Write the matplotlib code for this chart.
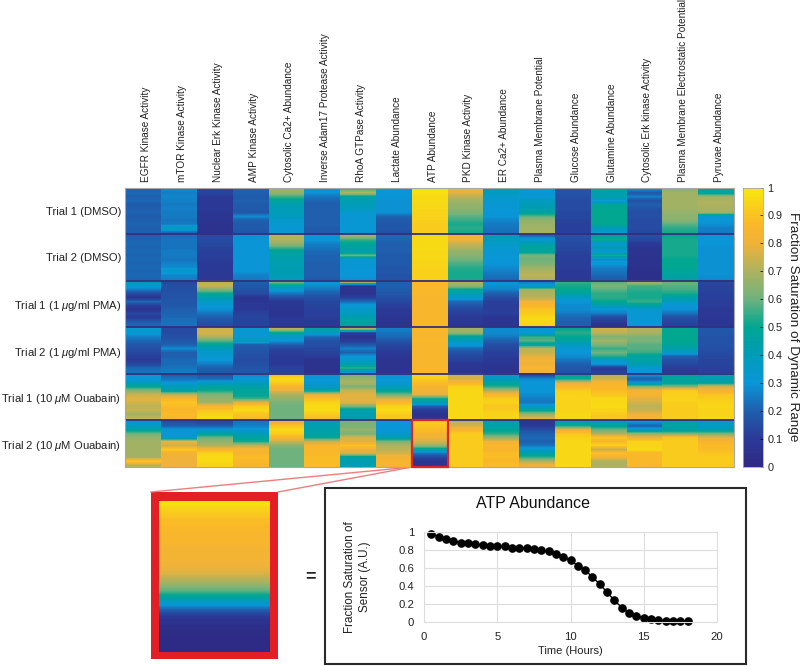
import numpy as np
from matplotlib import pyplot as plt
from matplotlib.colors import LinearSegmentedColormap
from matplotlib.patches import Rectangle

plt.rcParams['font.family'] = ['Liberation Sans', 'DejaVu Sans']
plt.rcParams['mathtext.fontset'] = 'custom'
plt.rcParams['mathtext.it'] = 'Liberation Sans:italic'
plt.rcParams['mathtext.rm'] = 'Liberation Sans'

sensors = ['EGFR Kinase Activity', 'mTOR Kinase Activity', 'Nuclear Erk Kinase Activity',
           'AMP Kinase Activity', 'Cytosolic Ca2+ Abundance', 'Inverse Adam17 Protease Activity',
           'RhoA GTPase Activity', 'Lactate Abundance', 'ATP Abundance', 'PKD Kinase Activity',
           'ER Ca2+ Abundance', 'Plasma Membrane Potential', 'Glucose Abundance',
           'Glutamine Abundance', 'Cytosolic Erk kinase Activity',
           'Plasma Membrane Electrostatic Potential', 'Pyruvae Abundance']
trials = ['Trial 1 (DMSO)', 'Trial 2 (DMSO)', 'Trial 1 (1 $\\mu$g/ml PMA)', 'Trial 2 (1 $\\mu$g/ml PMA)',
          'Trial 1 (10 $\\mu$M Ouabain)', 'Trial 2 (10 $\\mu$M Ouabain)']

# percent saturation, one row per sensor, time runs top to bottom
dmso1 = [[20, 22, 20, 22, 19, 20, 21, 19, 20, 21, 20, 20],
         [27, 26, 27, 26, 25, 26, 25, 25, 24, 25, 40, 22],
         [13, 13, 10, 9, 9, 9, 8, 8, 8, 6, 6, 6],
         [20, 20, 19, 20, 19, 19, 18, 28, 20, 19, 19, 18],
         [68, 66, 55, 47, 42, 40, 40, 38, 34, 33, 32, 31],
         [30, 29, 24, 21, 20, 20, 20, 20, 20, 20, 19, 19],
         [55, 72, 45, 42, 40, 38, 34, 32, 32, 31, 31, 31],
         [30, 30, 30, 29, 29, 29, 29, 21, 19, 18, 18, 17],
         [97, 97, 96, 96, 95, 95, 94, 93, 93, 92, 92, 92],
         [80, 78, 72, 68, 66, 65, 62, 58, 55, 52, 54, 52],
         [40, 38, 34, 33, 32, 31, 30, 30, 27, 25, 24, 23],
         [32, 31, 31, 38, 40, 42, 46, 58, 66, 67, 68, 69],
         [17, 17, 16, 15, 15, 15, 14, 14, 13, 12, 12, 12],
         [45, 42, 45, 30, 48, 50, 50, 50, 50, 50, 40, 33],
         [29, 18, 26, 16, 20, 17, 16, 16, 15, 15, 15, 14],
         [64, 68, 68, 68, 68, 68, 66, 65, 64, 58, 54, 52],
         [48, 46, 68, 70, 70, 69, 68, 32, 30, 29, 26, 25]]
dmso2 = [[20, 21, 22, 21, 22, 21, 22, 21, 22, 21, 22, 21],
         [23, 24, 24, 24, 25, 25, 24, 26, 28, 35, 27, 26],
         [15, 15, 14, 13, 12, 12, 11, 10, 10, 10, 9, 9],
         [29, 30, 30, 30, 30, 30, 30, 30, 30, 30, 26, 25],
         [72, 70, 66, 56, 47, 44, 43, 42, 42, 41, 40, 40],
         [30, 30, 26, 24, 22, 21, 21, 20, 20, 20, 20, 19],
         [68, 55, 48, 46, 42, 60, 32, 31, 31, 30, 30, 29],
         [22, 21, 20, 20, 20, 19, 19, 19, 18, 18, 17, 17],
         [95, 96, 96, 96, 95, 95, 95, 94, 94, 93, 93, 93],
         [82, 80, 74, 70, 66, 64, 60, 57, 54, 52, 52, 52],
         [40, 38, 36, 33, 32, 31, 30, 30, 28, 26, 24, 22],
         [22, 34, 42, 48, 46, 62, 60, 62, 67, 70, 72, 70],
         [17, 16, 15, 14, 13, 12, 12, 11, 11, 10, 10, 9],
         [45, 52, 32, 42, 30, 52, 28, 32, 26, 24, 22, 20],
         [16, 14, 10, 8, 7, 6, 6, 6, 5, 5, 4, 4],
         [50, 52, 52, 52, 52, 52, 50, 50, 50, 48, 46, 46],
         [30, 30, 30, 29, 29, 29, 29, 29, 29, 29, 29, 28]]
pma1 = [[40, 33, 25, 14, 8, 22, 12, 6, 14, 10, 18, 22],
        [14, 16, 16, 17, 17, 18, 18, 20, 21, 22, 23, 24],
        [72, 74, 62, 50, 42, 36, 31, 29, 24, 20, 17, 15],
        [20, 18, 17, 15, 8, 8, 9, 10, 12, 13, 13, 13],
        [62, 45, 32, 24, 16, 10, 8, 8, 7, 8, 10, 9],
        [31, 28, 24, 20, 16, 14, 13, 12, 12, 11, 10, 10],
        [78, 8, 7, 7, 12, 22, 32, 35, 38, 42, 46, 46],
        [20, 20, 19, 18, 16, 14, 12, 10, 9, 8, 7, 7],
        [86, 86, 86, 86, 85, 85, 85, 85, 85, 85, 85, 85],
        [70, 66, 48, 42, 34, 22, 18, 14, 12, 10, 9, 8],
        [30, 29, 26, 20, 15, 12, 11, 11, 12, 8, 7, 7],
        [25, 32, 68, 70, 72, 80, 86, 90, 92, 95, 96, 94],
        [55, 52, 50, 46, 36, 30, 28, 28, 25, 22, 20, 20],
        [58, 62, 58, 54, 54, 50, 42, 30, 26, 15, 12, 6],
        [70, 56, 54, 52, 52, 55, 46, 34, 32, 32, 31, 30],
        [60, 58, 56, 52, 44, 38, 30, 29, 24, 16, 14, 12],
        [14, 13, 13, 12, 12, 11, 11, 10, 9, 9, 8, 8]]
pma2 = [[33, 32, 26, 22, 18, 16, 14, 12, 10, 14, 22, 24],
        [15, 15, 16, 18, 20, 28, 20, 20, 22, 22, 24, 25],
        [74, 76, 70, 58, 48, 40, 34, 33, 30, 25, 20, 19],
        [33, 32, 32, 40, 20, 18, 17, 16, 15, 16, 17, 18],
        [72, 48, 36, 30, 20, 14, 11, 10, 10, 10, 12, 13],
        [45, 38, 22, 17, 16, 14, 13, 11, 6, 6, 6, 5],
        [70, 10, 7, 10, 18, 26, 20, 30, 35, 42, 55, 32],
        [26, 24, 22, 18, 14, 12, 10, 8, 7, 7, 7, 7],
        [86, 85, 85, 86, 85, 85, 85, 85, 85, 85, 85, 86],
        [68, 66, 46, 38, 32, 22, 17, 14, 12, 9, 8, 7],
        [28, 28, 25, 20, 16, 14, 12, 11, 9, 8, 7, 7],
        [32, 30, 55, 58, 45, 72, 74, 78, 82, 80, 85, 80],
        [50, 54, 50, 46, 38, 32, 30, 28, 24, 20, 18, 17],
        [75, 72, 62, 68, 62, 55, 60, 54, 34, 30, 10, 12],
        [70, 70, 62, 62, 58, 58, 55, 46, 45, 42, 32, 30],
        [50, 50, 50, 50, 48, 44, 36, 20, 16, 14, 11, 10],
        [18, 18, 17, 17, 17, 16, 15, 14, 13, 13, 12, 12]]
oua1 = [[30, 30, 38, 50, 64, 74, 78, 76, 72, 74, 68, 74],
        [20, 24, 30, 40, 44, 72, 84, 90, 88, 85, 88, 86],
        [18, 22, 36, 46, 52, 62, 66, 68, 84, 90, 94, 96],
        [28, 30, 38, 44, 48, 48, 55, 78, 92, 96, 90, 88],
        [88, 96, 92, 84, 78, 70, 66, 62, 60, 60, 60, 60],
        [30, 30, 32, 36, 46, 78, 88, 94, 96, 96, 92, 88],
        [62, 66, 70, 62, 74, 78, 78, 78, 62, 44, 42, 42],
        [30, 30, 32, 38, 48, 60, 76, 86, 94, 96, 92, 90],
        [95, 92, 88, 84, 80, 78, 52, 42, 20, 10, 8, 6],
        [76, 76, 84, 94, 95, 95, 95, 95, 95, 95, 95, 95],
        [34, 38, 46, 54, 70, 84, 92, 94, 90, 92, 94, 94],
        [14, 28, 30, 30, 30, 28, 26, 24, 34, 48, 66, 78],
        [48, 50, 78, 86, 92, 94, 94, 94, 94, 94, 95, 95],
        [72, 74, 84, 86, 88, 90, 95, 95, 96, 94, 92, 90],
        [30, 20, 30, 66, 82, 84, 78, 76, 72, 74, 80, 84],
        [45, 48, 46, 64, 92, 93, 93, 93, 92, 92, 92, 92],
        [42, 42, 46, 76, 82, 90, 92, 94, 95, 94, 94, 95]]
oua2 = [[34, 36, 46, 60, 66, 68, 68, 68, 68, 68, 92, 72],
        [16, 20, 32, 32, 32, 80, 74, 92, 82, 80, 80, 80],
        [14, 20, 32, 46, 60, 66, 70, 84, 94, 96, 96, 94],
        [24, 26, 32, 40, 46, 52, 72, 84, 84, 88, 86, 84],
        [78, 90, 96, 92, 84, 74, 64, 60, 60, 60, 60, 60],
        [42, 42, 44, 44, 50, 74, 84, 86, 86, 88, 88, 88],
        [62, 62, 66, 62, 76, 78, 90, 80, 76, 44, 42, 42],
        [30, 30, 30, 34, 42, 62, 70, 72, 76, 82, 84, 84],
        [94, 90, 88, 84, 80, 76, 66, 46, 24, 14, 8, 6],
        [72, 76, 84, 92, 92, 92, 92, 92, 92, 92, 92, 92],
        [44, 44, 48, 54, 66, 80, 86, 84, 88, 88, 86, 88],
        [8, 10, 16, 20, 22, 20, 24, 34, 44, 54, 70, 80],
        [42, 52, 80, 90, 94, 95, 95, 95, 95, 95, 95, 95],
        [38, 48, 60, 70, 90, 86, 94, 72, 90, 82, 70, 70],
        [30, 20, 36, 66, 80, 94, 94, 96, 86, 86, 86, 86],
        [44, 46, 44, 62, 90, 92, 92, 92, 92, 92, 92, 92],
        [36, 36, 42, 62, 78, 84, 88, 88, 90, 92, 92, 92]]

atp_hours = [0.5, 1, 1.5, 2, 2.5, 3, 3.5, 4, 4.5, 5, 5.5, 6, 6.5, 7, 7.5, 8, 8.5, 9,
             9.5, 10, 10.5, 11, 11.5, 12, 12.5, 13, 13.5, 14, 14.5, 15, 15.5, 16, 16.5, 17, 17.5, 18]
atp_values = [0.98, 0.95, 0.925, 0.905, 0.88, 0.875, 0.865, 0.855, 0.85, 0.85, 0.84, 0.825,
              0.825, 0.825, 0.81, 0.80, 0.785, 0.76, 0.72, 0.685, 0.626, 0.574, 0.50, 0.42,
              0.33, 0.24, 0.16, 0.10, 0.07, 0.045, 0.03, 0.02, 0.015, 0.012, 0.012, 0.012]

colorbar_ticks = [0, 0.1, 0.2, 0.3, 0.4, 0.5, 0.6, 0.7, 0.8, 0.9, 1]
colorbar_labels = ['0', '0.1', '0.2', '0.3', '0.4', '0.5', '0.6', '0.7', '0.8', '0.9', '1']

W, H = 800, 666
fig = plt.figure(figsize=(W / 100, H / 100), dpi=100)

def pixelAxes(left, top, right, bottom):
    return fig.add_axes([left / W, 1 - bottom / H, (right - left) / W, (bottom - top) / H])

# print-like parula
parula = LinearSegmentedColormap.from_list('parula_print', [
    (0.00, '#2e2a83'), (0.10, '#2b3a97'), (0.20, '#1f5fae'), (0.30, '#0a97d8'),
    (0.40, '#009cb8'), (0.50, '#00a791'), (0.60, '#6fb27e'), (0.70, '#adb35f'),
    (0.80, '#f0b23a'), (0.87, '#fbb829'), (1.00, '#f7ea0c')])

# whole picture in pixel coordinates, for the frames and connecting lines
canvas = fig.add_axes([0, 0, 1, 1])
canvas.set_xlim(0, W)
canvas.set_ylim(H, 0)
canvas.axis('off')

# heat map, each cell smoothed only along time
heat = pixelAxes(125.5, 187.5, 734, 467)
blocks = [dmso1, dmso2, pma1, pma2, oua1, oua2]
for t, block in enumerate(blocks):
    for s, column in enumerate(block):
        heat.imshow(np.array(column).reshape(-1, 1) / 100, cmap=parula, vmin=0, vmax=1, aspect='auto',
                    interpolation='bilinear', extent=[s, s + 1, t + 1, t])
heat.set_xlim(0, len(sensors))
heat.set_ylim(len(trials), 0)
for i in range(1, len(trials)):
    heat.axhline(i, color='#34307c', lw=1.3)
heat.set_xticks(np.arange(len(sensors)) + 0.58)
heat.set_xticklabels(sensors, rotation=90, fontsize=7.2, color='#222222')
heat.set_yticks(np.arange(len(trials)) + 0.5)
heat.set_yticklabels(trials, fontsize=8.1, color='#222222')
heat.xaxis.tick_top()
heat.tick_params(length=0, pad=4)
heat.tick_params(axis='y', pad=3)
for spine in heat.spines.values():
    spine.set_color('#a8a8a8')
    spine.set_linewidth(0.8)
# ATP cell in the last trial
heat.add_patch(Rectangle((8, 5), 1, 1, fill=False, ec='#e0222a', lw=1.6, zorder=5, clip_on=False))

# colour bar
cbar = pixelAxes(743, 187.5, 763, 467)
cbar.imshow(np.linspace(1, 0, 256).reshape(-1, 1), cmap=parula, vmin=0, vmax=1, aspect='auto',
            extent=[0, 1, 0, 1])
cbar.set_xticks([])
cbar.yaxis.tick_right()
cbar.set_yticks(colorbar_ticks)
cbar.set_yticklabels(colorbar_labels, fontsize=7.8, color='#222222')
cbar.tick_params(length=2, width=0.5, pad=3, direction='in')
for spine in cbar.spines.values():
    spine.set_color('#a8a8a8')
    spine.set_linewidth(0.6)
canvas.text(793, 327, 'Fraction Saturation of Dynamic Range', rotation=270, ha='center', va='center',
            fontsize=9.7, color='#222222')

# connecting lines
canvas.plot([412, 151], [467, 492], color='#ee7d80', lw=1)
canvas.plot([412, 278], [467, 492], color='#ee7d80', lw=1)

# enlarged ATP cell
canvas.add_patch(Rectangle((151, 492), 127, 167, fc='#e31e25', ec='none'))
swatch = pixelAxes(159, 501, 270, 652)
swatch.imshow(np.array(atp_values).reshape(-1, 1), cmap=parula, vmin=0, vmax=1, aspect='auto',
              interpolation='bilinear')
swatch.axis('off')
canvas.text(310, 577, '=', ha='center', va='center', fontsize=13, fontweight='bold', color='#222222')

# line plot panel
canvas.add_patch(Rectangle((324.5, 488), 421.5, 176, fc='white', ec='#2a2a2a', lw=1.5))
canvas.text(533, 503, 'ATP Abundance', ha='center', va='center', fontsize=11.5, color='#111111')
line = pixelAxes(424, 532, 717, 622)
line.plot(atp_hours, atp_values, '-o', color='black', ms=5.2, lw=1, clip_on=False)
line.set_xlim(0, 20)
line.set_ylim(0, 1)
line.set_xticks([0, 5, 10, 15, 20])
line.set_yticks([0, 0.2, 0.4, 0.6, 0.8, 1])
line.set_yticklabels(['0', '0.2', '0.4', '0.6', '0.8', '1'])
line.tick_params(length=0, labelsize=8.1, pad=7, labelcolor='#222222')
line.grid(color='#dddddd', lw=0.8)
line.set_axisbelow(True)
for side in ['top', 'right', 'bottom', 'left']:
    line.spines[side].set_color('#dddddd')
line.set_xlabel('Time (Hours)', fontsize=8, labelpad=3, color='#222222')
line.set_ylabel('Fraction Saturation of\nSensor (A.U.)', fontsize=8.4, labelpad=20, linespacing=1.25, color='#222222')

plt.savefig('out.png', dpi=100)
